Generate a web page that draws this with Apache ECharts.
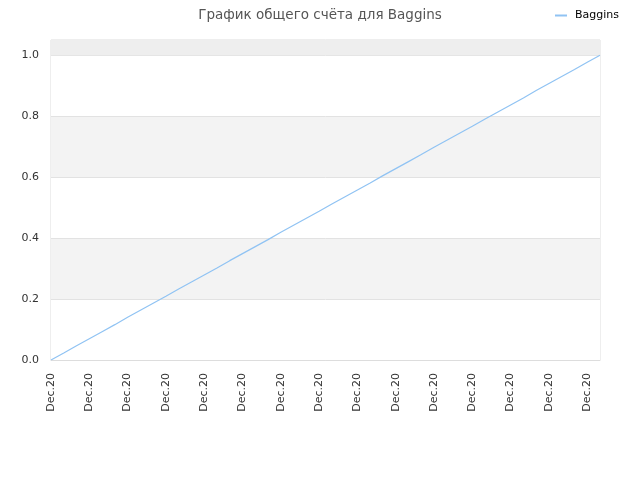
<!DOCTYPE html>
<html>
<head>
<meta charset="utf-8">
<script src="https://cdn.jsdelivr.net/npm/echarts@6/dist/echarts.min.js"></script>
<style>
  html, body { margin: 0; padding: 0; background: #fff; }
  #chart { width: 640px; height: 480px; }
</style>
</head>
<body>
<div id="chart"></div>
<script>
var titleText = 'График общего счёта для Baggins';
var seriesName = 'Baggins';

var days = [
    'Dec.20', 'Dec.20', 'Dec.20', 'Dec.20', 'Dec.20', 'Dec.20', 'Dec.20', 'Dec.20',
    'Dec.20', 'Dec.20', 'Dec.20', 'Dec.20', 'Dec.20', 'Dec.20', 'Dec.20', 'Dec.20',
    'Dec.20', 'Dec.20', 'Dec.20', 'Dec.20', 'Dec.20', 'Dec.20', 'Dec.20', 'Dec.20',
    'Dec.20', 'Dec.20', 'Dec.20', 'Dec.20', 'Dec.20', 'Dec.20', 'Dec.20', 'Dec.20',
    'Dec.20', 'Dec.20', 'Dec.20', 'Dec.20', 'Dec.20', 'Dec.20', 'Dec.20', 'Dec.20',
    'Dec.20', 'Dec.20', 'Dec.20', 'Dec.20'
];

var scores = [
    0, 0.023, 0.047, 0.070, 0.093, 0.116, 0.140, 0.163, 0.186, 0.209,
    0.233, 0.256, 0.279, 0.302, 0.326, 0.349, 0.372, 0.395, 0.419, 0.442,
    0.465, 0.488, 0.512, 0.535, 0.558, 0.581, 0.605, 0.628, 0.651, 0.674,
    0.698, 0.721, 0.744, 0.767, 0.791, 0.814, 0.837, 0.860, 0.884, 0.907,
    0.930, 0.953, 0.977, 1.0
];

var myChart = echarts.init(document.getElementById('chart'));
var option = {
    animation: false,
    textStyle: { fontFamily: 'DejaVu Sans' },
    title: {
        text: titleText,
        left: 'center',
        top: 3,
        textStyle: { fontSize: 13.5, fontWeight: 'normal', color: '#555' }
    },
    legend: {
        right: 16,
        top: 5,
        itemWidth: 12,
        itemHeight: 2,
        itemGap: 5,
        icon: 'rect',
        textStyle: { fontSize: 11, color: '#000', padding: [0, 0, 0, 3] },
        data: [seriesName]
    },
    grid: {
        left: 51,
        right: 40,
        top: 40,
        bottom: 120,
        show: true,
        borderColor: '#ddd',
        borderWidth: 1
    },
    xAxis: {
        type: 'category',
        boundaryGap: false,
        data: days,
        axisLine: { lineStyle: { color: '#ddd' } },
        axisTick: { show: false },
        axisLabel: {
            interval: 2,
            rotate: 90,
            fontSize: 11,
            color: '#333',
            margin: 13
        },
        splitLine: { show: false }
    },
    yAxis: {
        type: 'value',
        min: 0,
        max: 1.05,
        interval: 0.2,
        axisLine: { show: false },
        axisTick: { show: false },
        axisLabel: {
            fontSize: 11,
            color: '#333',
            margin: 12,
            formatter: function (v) { return v > 1.01 ? '' : v.toFixed(1); }
        },
        splitLine: { lineStyle: { color: '#e2e2e2' } },
        splitArea: { show: true, areaStyle: { color: ['#ffffff', '#f3f3f3'] } }
    },
    series: [
        {
            name: seriesName,
            type: 'line',
            data: scores,
            symbol: 'none',
            lineStyle: { width: 1.2, color: '#90c3f3' },
            itemStyle: { color: '#90c3f3' },
            markArea: {
                silent: true,
                itemStyle: { color: '#eeeeee' },
                data: [[{ yAxis: 1.0 }, { yAxis: 1.05 }]]
            }
        }
    ]
};
myChart.setOption(option);
</script>
</body>
</html>
